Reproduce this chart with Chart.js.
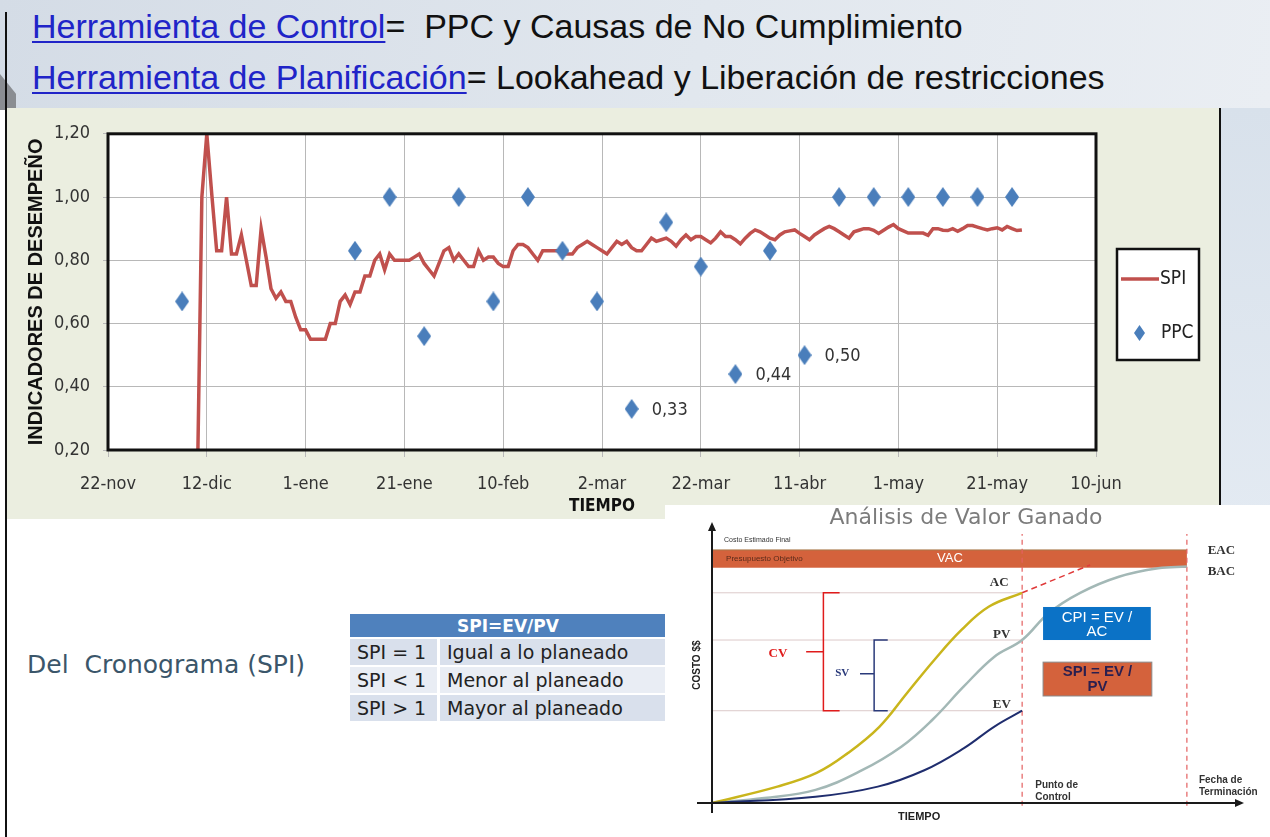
<!DOCTYPE html>
<html lang="es">
<head>
<meta charset="utf-8">
<title>PPC y SPI</title>
<script src="https://cdn.jsdelivr.net/npm/chart.js@4.4.1/dist/chart.umd.min.js"></script>
<style>
  html, body { margin: 0; padding: 0; }
  body { width: 1270px; height: 837px; position: relative; overflow: hidden; background: #fff; font-family: 'Liberation Sans', Arial, sans-serif; }
  .header { position: absolute; left: 0; top: 0; width: 1270px; height: 110px; background: linear-gradient(100deg, #d4dce6 0%, #e1e7ee 55%, #eaeef3 100%); }
  .wedge { position: absolute; left: 0; top: 74px; width: 16px; height: 36px; background: #8a8d92; clip-path: polygon(0 0, 100% 55%, 100% 100%, 0 100%); }
  .line { position: absolute; left: 32px; font-size: 34px; color: #111; white-space: nowrap; }
  .line .link { color: #2024c8; text-decoration: underline; text-decoration-thickness: 2px; text-underline-offset: 3px; }
  .frame-left { position: absolute; left: 5px; top: 12px; width: 2px; height: 825px; background: #111; }
  .panel { position: absolute; left: 7px; top: 108px; width: 1213px; height: 411px; background: #ebeee0; }
  .panel-right { position: absolute; left: 1219px; top: 108px; width: 2px; height: 398px; background: #111; }
  .side { position: absolute; left: 1221px; top: 108px; width: 49px; height: 412px; background: linear-gradient(180deg, #d8e1eb, #e3eaf2); }
  #mainChart { position: absolute; left: 8px; top: 110px; }
  .ev-box { position: absolute; left: 665px; top: 505px; width: 605px; height: 332px; background: #fff; }
  #evChart { position: absolute; left: 665px; top: 505px; }
  .crono { position: absolute; left: 27px; top: 650px; font-family: 'DejaVu Sans', Verdana, sans-serif; font-size: 25px; color: #3b566a; white-space: nowrap; }
  table.spi { position: absolute; left: 350px; top: 612px; width: 316px; border-collapse: separate; border-spacing: 0 2px; font-family: 'DejaVu Sans', Verdana, sans-serif; font-size: 19px; color: #222; }
  table.spi th { background: #4f81bd; color: #fff; font-weight: bold; height: 23px; padding: 0; font-size: 17px; }
  table.spi td { height: 26px; padding: 0 0 0 7px; white-space: nowrap; }
  table.spi tr.a td { background: #d9e0ec; }
  table.spi tr.b td { background: #e9edf4; }
  table.spi td.k { width: 80px; border-right: 3px solid #fff; }
</style>
</head>
<body>
<div class="header"></div>
<div class="wedge"></div>
<div class="line" style="top:7px"><span class="link">Herramienta de Control</span>=&nbsp; PPC y Causas de No Cumplimiento</div>
<div class="line" style="top:58px"><span class="link">Herramienta de Planificación</span>= Lookahead y Liberación de restricciones</div>
<div class="panel"></div>
<div class="side"></div>
<div class="panel-right"></div>
<canvas id="mainChart" width="1212" height="409"></canvas>
<div class="frame-left"></div>
<div class="crono">Del&nbsp; Cronograma (SPI)</div>
<table class="spi">
  <tr><th colspan="2">SPI=EV/PV</th></tr>
  <tr class="a"><td class="k">SPI = 1</td><td>Igual a lo planeado</td></tr>
  <tr class="b"><td class="k">SPI &lt; 1</td><td>Menor al planeado</td></tr>
  <tr class="a"><td class="k">SPI &gt; 1</td><td>Mayor al planeado</td></tr>
</table>
<div class="ev-box"></div>
<canvas id="evChart" width="605" height="332"></canvas>

<script>
// ---- main chart data (x = days since 22-nov) ----
const xTickDays = [0, 20, 40, 60, 80, 100, 120, 140, 160, 180, 200];
const xTickLabels = ['22-nov', '12-dic', '1-ene', '21-ene', '10-feb', '2-mar', '22-mar', '11-abr', '1-may', '21-may', '10-jun'];
const yTickValues = [0.2, 0.4, 0.6, 0.8, 1.0, 1.2];
const yTickLabels = ['0,20', '0,40', '0,60', '0,80', '1,00', '1,20'];

// weekly PPC
const ppcDays = [15, 50, 57, 64, 71, 78, 85, 92, 99, 106, 113, 120, 127, 134, 141, 148, 155, 162, 169, 176, 183];
const ppcValues = [0.67, 0.83, 1.00, 0.56, 1.00, 0.67, 1.00, 0.83, 0.67, 0.33, 0.92, 0.78, 0.44, 0.83, 0.50, 1.00, 1.00, 1.00, 1.00, 1.00, 1.00];
const ppcLabels = ['', '', '', '', '', '', '', '', '', '0,33', '', '', '0,44', '', '0,50', '', '', '', '', '', ''];

// daily SPI, first value on day 18 (10-dic)
const spiStartDay = 18;
const spiValues = [
  0.00, 1.00, 1.20, 1.01, 0.83, 0.83, 1.00, 0.82, 0.82, 0.88,
  0.80, 0.72, 0.72, 0.90, 0.81, 0.71, 0.68, 0.70, 0.67, 0.67,
  0.62, 0.58, 0.58, 0.55, 0.55, 0.55, 0.55, 0.60, 0.60, 0.67,
  0.69, 0.66, 0.70, 0.70, 0.75, 0.75, 0.80, 0.82, 0.77, 0.82,
  0.80, 0.80, 0.80, 0.80, 0.81, 0.82, 0.79, 0.77, 0.75, 0.79,
  0.83, 0.84, 0.80, 0.82, 0.80, 0.78, 0.78, 0.83, 0.80, 0.81,
  0.81, 0.79, 0.78, 0.78, 0.83, 0.85, 0.85, 0.84, 0.82, 0.80,
  0.83, 0.83, 0.83, 0.83, 0.82, 0.82, 0.82, 0.84, 0.85, 0.86,
  0.85, 0.84, 0.83, 0.82, 0.84, 0.86, 0.85, 0.86, 0.84, 0.83,
  0.83, 0.85, 0.87, 0.86, 0.865, 0.87, 0.86, 0.845, 0.865, 0.88,
  0.865, 0.875, 0.875, 0.865, 0.855, 0.87, 0.89, 0.875, 0.875, 0.865,
  0.852, 0.87, 0.885, 0.896, 0.89, 0.88, 0.87, 0.865, 0.88, 0.89,
  0.893, 0.896, 0.885, 0.875, 0.865, 0.88, 0.89, 0.90, 0.907, 0.90,
  0.89, 0.88, 0.87, 0.89, 0.895, 0.90, 0.90, 0.895, 0.885, 0.895,
  0.905, 0.913, 0.90, 0.893, 0.886, 0.886, 0.886, 0.886, 0.879, 0.90,
  0.90, 0.895, 0.894, 0.90, 0.892, 0.90, 0.91, 0.91, 0.905, 0.90,
  0.896, 0.90, 0.903, 0.896, 0.907, 0.90, 0.894, 0.896
];

const NARROW = "'Liberation Sans Narrow', 'DejaVu Sans Condensed', 'Liberation Sans', sans-serif";
const SPI_RED = '#c0504d';
const PPC_BLUE = '#4a7ebb';

function makeDiamond(w, h) {
  const c = document.createElement('canvas');
  c.width = w; c.height = h;
  const g = c.getContext('2d');
  g.fillStyle = PPC_BLUE;
  g.beginPath();
  g.moveTo(w / 2, 0); g.lineTo(w, h / 2); g.lineTo(w / 2, h); g.lineTo(0, h / 2);
  g.closePath(); g.fill();
  return c;
}
const diamond = makeDiamond(14, 20);
const legendDiamond = makeDiamond(11, 16);

const plotFrame = {
  id: 'plotFrame',
  beforeDraw(chart) {
    const { ctx, chartArea: a } = chart;
    ctx.save();
    ctx.fillStyle = '#fff';
    ctx.fillRect(a.left, a.top, a.width, a.height);
    ctx.restore();
  },
  afterDatasetsDraw(chart) {
    const { ctx } = chart;
    const meta = chart.getDatasetMeta(1);
    ctx.save();
    ctx.font = '18px ' + NARROW;
    ctx.fillStyle = '#333';
    ctx.textAlign = 'left';
    ctx.textBaseline = 'middle';
    meta.data.forEach((pt, i) => {
      if (ppcLabels[i]) ctx.fillText(ppcLabels[i], pt.x + 20, pt.y + 1);
    });
    ctx.restore();
  },
  afterDraw(chart) {
    const { ctx, chartArea: a } = chart;
    ctx.save();
    ctx.strokeStyle = '#111';
    ctx.lineWidth = 3;
    ctx.strokeRect(a.left, a.top, a.width, a.height);

    // legend box
    const lx = a.right + 21, ly = 139;
    ctx.fillStyle = '#fff';
    ctx.fillRect(lx, ly, 82, 111);
    ctx.lineWidth = 2.5;
    ctx.strokeRect(lx, ly, 82, 111);
    ctx.strokeStyle = SPI_RED;
    ctx.lineWidth = 3.5;
    ctx.beginPath();
    ctx.moveTo(lx + 4, ly + 30); ctx.lineTo(lx + 42, ly + 30);
    ctx.stroke();
    ctx.drawImage(legendDiamond, lx + 17, ly + 76);
    ctx.fillStyle = '#222';
    ctx.font = '19px ' + NARROW;
    ctx.textBaseline = 'middle';
    ctx.fillText(chart.data.datasets[0].label, lx + 43, ly + 30);
    ctx.fillText(chart.data.datasets[1].label, lx + 44, ly + 84);
    ctx.restore();
  }
};

new Chart(document.getElementById('mainChart'), {
  type: 'line',
  data: {
    datasets: [
      {
        label: 'SPI',
        data: spiValues.map((v, i) => ({ x: spiStartDay + i, y: v })),
        borderColor: SPI_RED,
        borderWidth: 3.5,
        pointRadius: 0,
        tension: 0,
        order: 1
      },
      {
        label: 'PPC',
        data: ppcDays.map((d, i) => ({ x: d, y: ppcValues[i] })),
        showLine: false,
        pointStyle: diamond,
        pointRadius: 10,
        order: 0
      }
    ]
  },
  options: {
    responsive: false,
    animation: false,
    layout: { padding: { left: 16, right: 124, top: 22, bottom: 2 } },
    scales: {
      x: {
        type: 'linear',
        min: 0,
        max: 200,
        afterBuildTicks: (axis) => { axis.ticks = xTickDays.map(v => ({ value: v })); },
        afterFit: (axis) => { axis.height = 67; },
        ticks: {
          autoSkip: false,
          maxRotation: 0,
          padding: 17,
          color: '#333',
          font: { family: NARROW, size: 18 },
          callback: (value) => xTickLabels[xTickDays.indexOf(value)]
        },
        grid: { color: '#b8b8b8', tickLength: 7 },
        border: { display: false },
        title: {
          display: true,
          text: 'TIEMPO',
          color: '#111',
          font: { family: NARROW, size: 17, weight: 'bold' },
          padding: { top: 0, bottom: 0 }
        }
      },
      y: {
        min: 0.2,
        max: 1.2,
        afterBuildTicks: (axis) => { axis.ticks = yTickValues.map(v => ({ value: v })); },
        afterFit: (axis) => { axis.width = 84; },
        ticks: {
          padding: 13,
          color: '#333',
          font: { family: NARROW, size: 18 },
          callback: (value) => yTickLabels[yTickValues.indexOf(value)]
        },
        grid: { color: '#b8b8b8', tickLength: 5 },
        border: { display: false },
        title: {
          display: true,
          text: 'INDICADORES DE DESEMPEÑO',
          color: '#111',
          font: { family: "'Liberation Sans', Arial, sans-serif", size: 20, weight: 'bold' },
          padding: { top: 0, bottom: 0 }
        }
      }
    },
    plugins: {
      legend: { display: false },
      tooltip: { enabled: false }
    }
  },
  plugins: [plotFrame]
});

// ---- earned value diagram (schematic units 0..100) ----
const acCurve = [[0, 0], [12.5, 6], [20, 11], [26, 18.3], [32, 27.9], [37.3, 40.3], [42.5, 52.4], [47.7, 63.4], [52.9, 71.9], [59.3, 77]];
const pvCurve = [[0, 0], [10, 1.8], [19.8, 4.8], [28.7, 12], [36.2, 20.6], [42.1, 30.4], [48.1, 42.6], [54, 53.6], [59.3, 59.7], [64.4, 69.6], [70.4, 77], [77.8, 82.9], [85.3, 86], [90.8, 86.6]];
const evCurve = [[0, 0], [19.8, 2.3], [31.7, 6], [40.6, 12], [48.1, 20], [54, 28], [59.3, 33.8]];
const eacForecast = [[59.3, 77], [72.3, 87.2]];
const controlPoint = 59.3;
const finishPoint = 90.8;
const levels = { AC: 77, PV: 59.7, EV: 33.8 };
const bacLevel = 86.4;
const eacLevel = 92.7;

const pts = arr => arr.map(([x, y]) => ({ x, y }));
const hLine = (y, x0, x1) => [{ x: x0, y }, { x: x1, y }];

const evDecor = {
  id: 'evDecor',
  afterDatasetsDraw(chart) {
    const { ctx, chartArea: a, scales } = chart;
    const px = v => scales.x.getPixelForValue(v);
    const py = v => scales.y.getPixelForValue(v);
    ctx.save();

    // axes with arrows
    ctx.strokeStyle = '#1a1a1a';
    ctx.fillStyle = '#1a1a1a';
    ctx.lineWidth = 2;
    ctx.beginPath();
    ctx.moveTo(a.left, a.bottom + 10); ctx.lineTo(a.left, a.top - 2);
    ctx.moveTo(a.left - 15, a.bottom); ctx.lineTo(a.right + 2, a.bottom);
    ctx.stroke();
    ctx.beginPath();
    ctx.moveTo(a.left, a.top - 8); ctx.lineTo(a.left - 4, a.top + 1); ctx.lineTo(a.left + 4, a.top + 1); ctx.closePath();
    ctx.moveTo(a.right + 9, a.bottom); ctx.lineTo(a.right, a.bottom - 4); ctx.lineTo(a.right, a.bottom + 4); ctx.closePath();
    ctx.fill();

    // CV / SV brackets
    ctx.lineWidth = 1.5;
    ctx.strokeStyle = '#e01b1b';
    ctx.beginPath();
    ctx.moveTo(px(24.4), py(levels.AC)); ctx.lineTo(px(21.3), py(levels.AC)); ctx.lineTo(px(21.3), py(levels.EV)); ctx.lineTo(px(24.4), py(levels.EV));
    ctx.moveTo(px(18), py(55.4)); ctx.lineTo(px(21.3), py(55.4));
    ctx.stroke();
    ctx.strokeStyle = '#2a3a7a';
    ctx.beginPath();
    ctx.moveTo(px(33.6), py(levels.PV)); ctx.lineTo(px(31), py(levels.PV)); ctx.lineTo(px(31), py(levels.EV)); ctx.lineTo(px(33.6), py(levels.EV));
    ctx.moveTo(px(28.3), py(47.3)); ctx.lineTo(px(31), py(47.3));
    ctx.stroke();

    // index boxes
    ctx.fillStyle = '#0b72c6';
    ctx.fillRect(px(63.3), py(71.8), px(83.9) - px(63.3), py(59.7) - py(71.8));
    ctx.fillStyle = '#d4623c';
    ctx.fillRect(px(63.3), py(51.6), px(84.1) - px(63.3), py(39.2) - py(51.6));
    ctx.strokeStyle = '#8a8a8a';
    ctx.lineWidth = 1;
    ctx.strokeRect(px(63.3), py(51.6), px(84.1) - px(63.3), py(39.2) - py(51.6));

    ctx.textAlign = 'center';
    ctx.textBaseline = 'middle';
    ctx.fillStyle = '#fff';
    ctx.font = '15px "Liberation Sans", Arial, sans-serif';
    ctx.fillText('CPI = EV /', px(73.6), py(67.8));
    ctx.fillText('AC', px(73.6), py(62.6));
    ctx.fillStyle = '#2a1f4f';
    ctx.font = 'bold 15px "Liberation Sans", Arial, sans-serif';
    ctx.fillText('SPI = EV /', px(73.7), py(48));
    ctx.fillText('PV', px(73.7), py(42.7));

    // serif labels
    ctx.font = 'bold 13px "Liberation Serif", serif';
    ctx.fillStyle = '#333';
    ctx.fillText('AC', px(54.9), py(80.6));
    ctx.fillText('PV', px(55.4), py(61.5));
    ctx.fillText('EV', px(55.4), py(35.9));
    ctx.fillText('EAC', px(97.4), py(92.3));
    ctx.fillText('BAC', px(97.4), py(84.6));
    ctx.fillStyle = '#e01b1b';
    ctx.fillText('CV', px(12.6), py(54.6));
    ctx.fillStyle = '#2a3a7a';
    ctx.font = 'bold 11px "Liberation Serif", serif';
    ctx.fillText('SV', px(24.9), py(47.6));

    // budget bar texts
    ctx.fillStyle = '#fff';
    ctx.font = '13px "Liberation Sans", Arial, sans-serif';
    ctx.fillText('VAC', px(45.5), py(89.6));
    ctx.textAlign = 'left';
    ctx.fillStyle = '#5a2a1a';
    ctx.font = '8px "Liberation Sans", Arial, sans-serif';
    ctx.fillText('Presupuesto Objetivo', px(2.7), py(89.4));
    ctx.fillStyle = '#333';
    ctx.font = '7px "Liberation Sans", Arial, sans-serif';
    ctx.fillText('Costo Estimado Final', px(2.3), py(96.3));

    // time markers
    ctx.font = 'bold 10px "Liberation Sans", Arial, sans-serif';
    ctx.fillStyle = '#333';
    ctx.fillText('Punto de', px(61.8), py(6.6));
    ctx.fillText('Control', px(61.8), py(2.2));
    ctx.fillText('Fecha de', px(93.1), py(8.2));
    ctx.fillText('Terminación', px(93.1), py(4.1));

    // axis titles and heading
    ctx.textAlign = 'center';
    ctx.fillStyle = '#222';
    ctx.font = 'bold 11px "Liberation Sans", Arial, sans-serif';
    ctx.fillText('TIEMPO', px(39.6), a.bottom + 14);
    ctx.save();
    ctx.translate(a.left - 15, py(50.5));
    ctx.rotate(-Math.PI / 2);
    ctx.font = 'bold 10px "Liberation Sans", Arial, sans-serif';
    ctx.fillText('COSTO $$', 0, 0);
    ctx.restore();
    ctx.fillStyle = '#7c7c7c';
    ctx.font = '22px "DejaVu Sans", Verdana, sans-serif';
    ctx.fillText('Análisis de Valor Ganado', 301, 13);
    ctx.restore();
  }
};

new Chart(document.getElementById('evChart'), {
  type: 'line',
  data: {
    datasets: [
      { data: hLine(eacLevel, 0, finishPoint), borderColor: '#a8794a', borderWidth: 1, backgroundColor: '#d4623c', fill: '+1', order: 10 },
      { data: hLine(bacLevel, 0, finishPoint), borderColor: '#d4623c', borderWidth: 1, order: 11 },
      { data: hLine(levels.AC, 0, controlPoint), borderColor: '#dccaca', borderWidth: 1, order: 9 },
      { data: hLine(levels.PV, 0, controlPoint), borderColor: '#dccaca', borderWidth: 1, order: 9 },
      { data: hLine(levels.EV, 0, controlPoint), borderColor: '#dccaca', borderWidth: 1, order: 9 },
      { data: [{ x: controlPoint, y: -1 }, { x: controlPoint, y: 98.5 }], borderColor: '#e46060', borderWidth: 1.2, borderDash: [5, 4], clip: false, order: 8 },
      { data: [{ x: finishPoint, y: -1 }, { x: finishPoint, y: 98.5 }], borderColor: '#e46060', borderWidth: 1.2, borderDash: [5, 4], clip: false, order: 8 },
      { data: pts(pvCurve), borderColor: '#a3b8b6', borderWidth: 2.5, tension: 0.4, order: 3 },
      { data: pts(acCurve), borderColor: '#c9b51c', borderWidth: 2.5, tension: 0.4, order: 2 },
      { data: pts(evCurve), borderColor: '#1f2d6e', borderWidth: 2, tension: 0.4, order: 1 },
      { data: pts(eacForecast), borderColor: '#e03a3a', borderWidth: 1.5, borderDash: [6, 4], order: 1 }
    ]
  },
  options: {
    responsive: false,
    animation: false,
    layout: { padding: { left: 47, right: 35, top: 25, bottom: 34 } },
    elements: { point: { radius: 0 } },
    scales: {
      x: { type: 'linear', min: 0, max: 100, display: false },
      y: { min: 0, max: 100, display: false }
    },
    plugins: { legend: { display: false }, tooltip: { enabled: false } }
  },
  plugins: [evDecor]
});
</script>
</body>
</html>
